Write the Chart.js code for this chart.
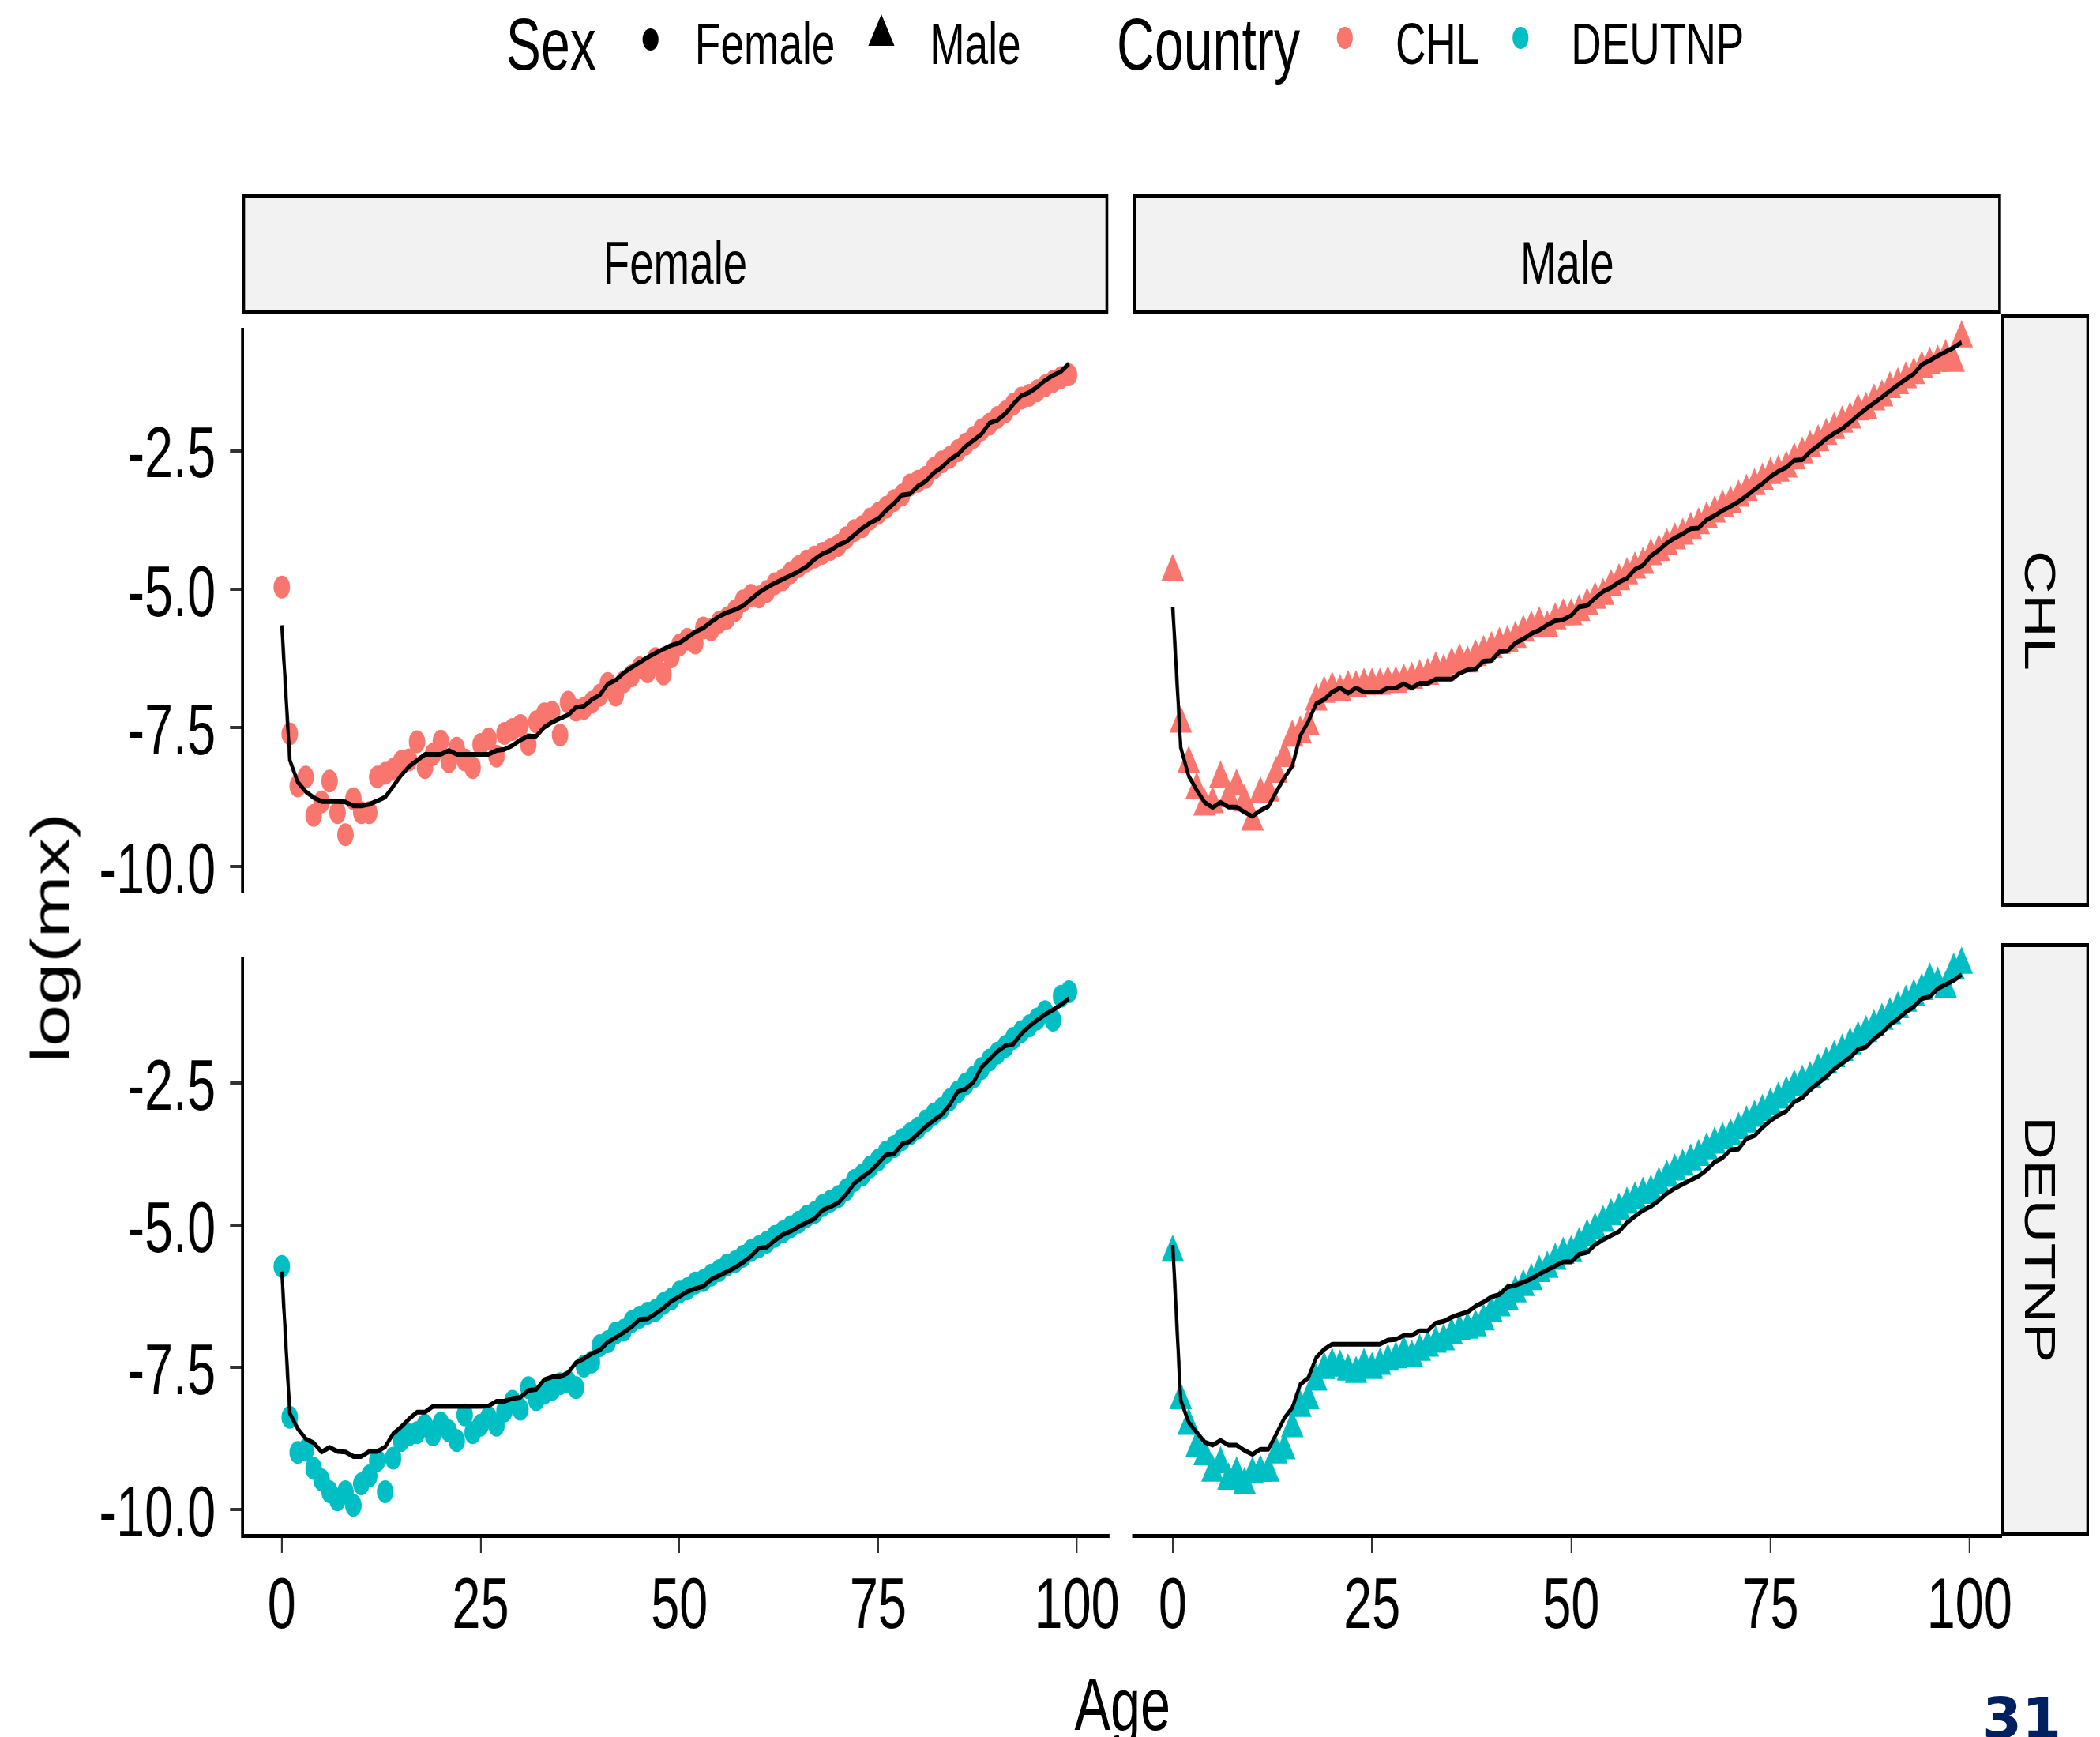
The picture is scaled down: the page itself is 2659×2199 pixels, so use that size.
<!DOCTYPE html>
<html><head><meta charset="utf-8">
<script src="https://cdn.jsdelivr.net/npm/chart.js@4.4.1/dist/chart.umd.min.js"></script>
<style>
html,body{margin:0;padding:0;background:#fff;width:2659px;height:2199px;overflow:hidden;position:relative;}
#wrap{position:absolute;left:0;top:0;width:3693px;height:2199px;transform:scaleX(0.72);transform-origin:0 0;font-family:"Liberation Sans",Arial,sans-serif;color:#000;}
.panel{position:absolute;}
.strip{position:absolute;background:#F2F2F2;border:5px solid #000;box-sizing:border-box;display:flex;align-items:center;justify-content:center;font-size:76px;line-height:1;white-space:nowrap;}
.stripY{writing-mode:vertical-rl;}
.txt{position:absolute;white-space:nowrap;line-height:1;}
.key{position:absolute;}
#pagenum{position:absolute;left:2510px;top:2139px;font-family:"DejaVu Sans",sans-serif;font-weight:bold;font-size:72px;line-height:1;color:#002060;}
</style>
</head>
<body>
<div id="wrap">
  <div class="panel" id="pTL" style="left:0px;top:338px;width:2069px;height:870px;"><canvas id="cTL"></canvas></div>
  <div class="panel" id="pTR" style="left:1933px;top:338px;width:1706px;height:870px;"><canvas id="cTR"></canvas></div>
  <div class="panel" id="pBL" style="left:0px;top:1134px;width:2069px;height:1010px;"><canvas id="cBL"></canvas></div>
  <div class="panel" id="pBR" style="left:1933px;top:1134px;width:1706px;height:1010px;"><canvas id="cBR"></canvas></div>

  <div class="strip" id="sF" style="left:426px;top:246px;width:1523px;height:152px;padding-top:22px;"></div>
  <div class="strip" id="sM" style="left:1993px;top:246px;width:1526px;height:152px;padding-top:22px;"></div>
  <div class="strip stripY" id="sC" style="left:3519px;top:398px;width:155px;height:750px;padding-right:20px;"></div>
  <div class="strip stripY" id="sD" style="left:3519px;top:1194px;width:155px;height:750px;padding-right:20px;"></div>

  <div class="txt" id="legSex" style="left:890px;top:10px;font-size:92px;">Sex</div>
  <div class="key" style="left:1130px;top:36px;width:28px;height:28px;border-radius:50%;background:#000;"></div>
  <div class="txt" id="legF" style="left:1222px;top:19px;font-size:74px;"></div>
  <div class="key" style="left:1527px;top:18px;width:0;height:0;border-left:23px solid transparent;border-right:23px solid transparent;border-bottom:40px solid #000;"></div>
  <div class="txt" id="legM" style="left:1635px;top:19px;font-size:74px;"></div>
  <div class="txt" id="legCountry" style="left:1964px;top:10px;font-size:92px;">Country</div>
  <div class="key" id="kC" style="left:2351px;top:34px;width:28px;height:28px;border-radius:50%;"></div>
  <div class="txt" id="legC" style="left:2454px;top:19px;font-size:74px;"></div>
  <div class="key" id="kD" style="left:2660px;top:34px;width:28px;height:28px;border-radius:50%;"></div>
  <div class="txt" id="legD" style="left:2763px;top:19px;font-size:74px;"></div>

  <div class="txt" style="left:1674px;top:2110px;width:600px;text-align:center;font-size:95px;">Age</div>
  <div class="txt" style="left:-211px;top:1140px;width:600px;height:95px;text-align:center;font-size:95px;transform:rotate(-90deg);transform-origin:50% 50%;">log(mx)</div>
</div>
<div id="pagenum">31</div>

<script>
// ---------- data ----------
const ages = [0,1,2,3,4,5,6,7,8,9,10,11,12,13,14,15,16,17,18,19,20,21,22,23,24,25,26,27,28,29,30,31,32,33,34,35,36,37,38,39,40,41,42,43,44,45,46,47,48,49,50,51,52,53,54,55,56,57,58,59,60,61,62,63,64,65,66,67,68,69,70,71,72,73,74,75,76,77,78,79,80,81,82,83,84,85,86,87,88,89,90,91,92,93,94,95,96,97,98,99];
const sexes = ['Female', 'Male'];
const countries = ['CHL', 'DEUTNP'];
const countryColors = ['#F8766D', '#00BFC4'];
const xTicks = [0, 25, 50, 75, 100];
const yTicks = [-10, -7.5, -5, -2.5];
const xRange = [-4.95, 103.95];
const yRange = [-10.46, -0.31];

const chlFemaleObs = [
-4.96,-7.61,-8.55,-8.39,-9.08,-8.84,-8.46,-9.03,-9.43,-8.78,
-9.03,-9.03,-8.39,-8.32,-8.25,-8.11,-8.08,-7.75,-8.22,-7.98,
-7.74,-8.11,-7.87,-8.08,-8.22,-7.80,-7.70,-8.01,-7.60,-7.53,
-7.46,-7.80,-7.39,-7.25,-7.22,-7.63,-7.04,-7.18,-7.15,-7.04,
-6.91,-6.70,-6.91,-6.67,-6.56,-6.42,-6.49,-6.25,-6.53,-6.22,
-6.01,-5.90,-5.97,-5.70,-5.73,-5.59,-5.52,-5.39,-5.21,-5.11,
-5.14,-5.04,-4.90,-4.83,-4.70,-4.59,-4.49,-4.42,-4.35,-4.28,
-4.21,-4.07,-3.94,-3.87,-3.73,-3.63,-3.52,-3.40,-3.30,-3.12,
-3.05,-2.98,-2.82,-2.70,-2.62,-2.50,-2.38,-2.26,-2.12,-2.02,
-1.90,-1.80,-1.66,-1.55,-1.50,-1.42,-1.33,-1.25,-1.18,-1.13];
const chlFemaleFit = [
-5.65,-8.08,-8.48,-8.65,-8.76,-8.83,-8.83,-8.83,-8.84,-8.91,
-8.91,-8.88,-8.82,-8.75,-8.56,-8.36,-8.20,-8.09,-7.98,-7.98,
-7.98,-7.91,-7.98,-7.98,-7.98,-7.98,-7.98,-7.91,-7.89,-7.82,
-7.72,-7.65,-7.65,-7.49,-7.40,-7.33,-7.27,-7.13,-7.11,-6.99,
-6.91,-6.71,-6.64,-6.51,-6.41,-6.32,-6.23,-6.15,-6.08,-6.01,
-5.97,-5.87,-5.77,-5.70,-5.59,-5.49,-5.42,-5.37,-5.30,-5.18,
-5.06,-4.97,-4.89,-4.82,-4.75,-4.68,-4.59,-4.46,-4.36,-4.30,
-4.20,-4.14,-4.02,-3.90,-3.80,-3.73,-3.58,-3.45,-3.30,-3.28,
-3.14,-3.05,-2.90,-2.80,-2.66,-2.57,-2.42,-2.31,-2.20,-2.00,
-1.95,-1.83,-1.66,-1.51,-1.45,-1.35,-1.23,-1.14,-1.07,-0.93];
const chlMaleObs = [
-4.72,-7.32,-8.01,-8.46,-8.74,-8.70,-8.26,-8.60,-8.40,-8.67,
-9.00,-8.53,-8.50,-8.18,-7.91,-7.56,-7.49,-7.36,-6.94,-6.81,
-6.74,-6.78,-6.71,-6.71,-6.67,-6.67,-6.67,-6.64,-6.64,-6.60,
-6.57,-6.53,-6.50,-6.39,-6.43,-6.32,-6.25,-6.29,-6.18,-6.11,
-6.04,-5.97,-5.94,-5.87,-5.76,-5.69,-5.62,-5.69,-5.55,-5.48,
-5.48,-5.41,-5.30,-5.20,-5.13,-4.98,-4.88,-4.78,-4.68,-4.60,
-4.45,-4.38,-4.28,-4.18,-4.10,-4.00,-3.92,-3.82,-3.72,-3.62,
-3.55,-3.45,-3.35,-3.25,-3.16,-3.06,-3.02,-2.95,-2.81,-2.71,
-2.60,-2.50,-2.39,-2.29,-2.18,-2.11,-1.97,-1.94,-1.80,-1.73,
-1.59,-1.52,-1.42,-1.35,-1.24,-1.17,-1.14,-1.04,-1.14,-0.72];
const chlMaleFit = [
-5.32,-7.73,-8.22,-8.46,-8.67,-8.76,-8.67,-8.75,-8.75,-8.84,
-8.91,-8.81,-8.74,-8.49,-8.25,-8.05,-7.53,-7.29,-6.98,-6.91,
-6.78,-6.71,-6.80,-6.71,-6.78,-6.78,-6.78,-6.71,-6.71,-6.64,
-6.71,-6.63,-6.63,-6.56,-6.56,-6.56,-6.46,-6.40,-6.39,-6.25,
-6.24,-6.09,-6.08,-5.94,-5.87,-5.78,-5.72,-5.63,-5.56,-5.54,
-5.47,-5.32,-5.30,-5.17,-5.06,-4.99,-4.90,-4.83,-4.68,-4.61,
-4.45,-4.35,-4.23,-4.14,-4.07,-3.98,-3.97,-3.83,-3.76,-3.67,
-3.60,-3.52,-3.42,-3.31,-3.21,-3.09,-3.00,-2.93,-2.81,-2.80,
-2.66,-2.56,-2.44,-2.35,-2.27,-2.16,-2.04,-1.93,-1.83,-1.73,
-1.62,-1.52,-1.42,-1.33,-1.17,-1.10,-1.02,-0.95,-0.88,-0.79];
const deuFemaleObs = [
-5.73,-8.38,-9.00,-8.96,-9.28,-9.48,-9.69,-9.83,-9.69,-9.93,
-9.55,-9.41,-9.14,-9.69,-9.10,-8.79,-8.69,-8.65,-8.52,-8.69,
-8.48,-8.62,-8.79,-8.34,-8.65,-8.52,-8.38,-8.52,-8.27,-8.10,
-8.24,-7.86,-8.07,-7.96,-7.89,-7.79,-7.76,-7.86,-7.48,-7.41,
-7.12,-7.05,-6.90,-6.85,-6.70,-6.62,-6.55,-6.50,-6.38,-6.30,
-6.18,-6.12,-6.02,-5.98,-5.88,-5.80,-5.70,-5.65,-5.55,-5.45,
-5.38,-5.30,-5.20,-5.12,-5.03,-4.95,-4.85,-4.78,-4.66,-4.58,
-4.50,-4.38,-4.22,-4.12,-3.98,-3.86,-3.72,-3.62,-3.50,-3.40,
-3.30,-3.17,-3.05,-2.95,-2.80,-2.66,-2.52,-2.40,-2.25,-2.10,
-1.98,-1.86,-1.72,-1.60,-1.50,-1.38,-1.25,-1.40,-0.98,-0.90];
const deuFemaleFit = [
-5.82,-8.31,-8.58,-8.76,-8.83,-8.99,-8.91,-8.98,-8.99,-9.07,
-9.07,-8.98,-8.98,-8.90,-8.67,-8.55,-8.41,-8.29,-8.29,-8.19,
-8.19,-8.19,-8.19,-8.19,-8.19,-8.19,-8.18,-8.10,-8.10,-8.05,
-8.03,-7.91,-7.89,-7.72,-7.67,-7.67,-7.60,-7.42,-7.35,-7.26,
-7.20,-7.06,-6.98,-6.89,-6.79,-6.66,-6.65,-6.56,-6.46,-6.34,
-6.26,-6.17,-6.12,-6.08,-5.96,-5.89,-5.82,-5.75,-5.66,-5.55,
-5.41,-5.39,-5.27,-5.17,-5.11,-5.03,-4.96,-4.89,-4.74,-4.68,
-4.61,-4.46,-4.27,-4.16,-4.06,-3.92,-3.77,-3.75,-3.58,-3.53,
-3.40,-3.27,-3.16,-3.06,-2.89,-2.66,-2.61,-2.49,-2.23,-2.09,
-1.95,-1.85,-1.82,-1.64,-1.51,-1.40,-1.30,-1.22,-1.13,-1.02];
const deuMaleObs = [
-5.61,-8.14,-8.58,-8.96,-9.10,-9.38,-9.24,-9.52,-9.41,-9.59,
-9.41,-9.38,-9.38,-9.07,-9.00,-8.62,-8.27,-8.14,-7.82,-7.62,
-7.55,-7.58,-7.65,-7.69,-7.55,-7.62,-7.55,-7.48,-7.44,-7.34,
-7.41,-7.31,-7.24,-7.17,-7.13,-7.03,-6.96,-6.93,-6.89,-6.79,
-6.65,-6.55,-6.44,-6.31,-6.20,-6.10,-5.96,-5.89,-5.75,-5.65,
-5.62,-5.48,-5.34,-5.23,-5.10,-4.99,-4.89,-4.79,-4.70,-4.62,
-4.58,-4.45,-4.33,-4.22,-4.14,-4.05,-3.97,-3.86,-3.76,-3.68,
-3.62,-3.51,-3.40,-3.30,-3.20,-3.09,-2.99,-2.89,-2.78,-2.70,
-2.64,-2.50,-2.39,-2.28,-2.17,-2.06,-1.95,-1.85,-1.75,-1.64,
-1.54,-1.44,-1.33,-1.23,-1.13,-0.95,-1.02,-1.09,-0.78,-0.68];
const deuMaleFit = [
-5.48,-8.14,-8.52,-8.69,-8.86,-8.91,-8.83,-8.91,-8.91,-9.00,
-9.07,-8.98,-8.98,-8.72,-8.45,-8.27,-7.87,-7.76,-7.41,-7.27,
-7.18,-7.18,-7.18,-7.18,-7.18,-7.18,-7.18,-7.11,-7.10,-7.03,
-7.03,-6.95,-6.95,-6.82,-6.79,-6.72,-6.67,-6.63,-6.53,-6.46,
-6.37,-6.33,-6.20,-6.17,-6.12,-6.06,-5.98,-5.91,-5.84,-5.77,
-5.77,-5.64,-5.61,-5.48,-5.39,-5.32,-5.25,-5.10,-4.99,-4.89,
-4.82,-4.72,-4.60,-4.51,-4.44,-4.37,-4.30,-4.20,-4.06,-3.99,
-3.85,-3.84,-3.66,-3.61,-3.47,-3.35,-3.26,-3.19,-3.03,-2.96,
-2.82,-2.71,-2.60,-2.47,-2.37,-2.27,-2.13,-2.09,-1.95,-1.85,
-1.71,-1.61,-1.49,-1.40,-1.26,-1.23,-1.09,-1.02,-0.95,-0.85];

// ---------- text ----------
document.getElementById('sF').textContent = sexes[0];
document.getElementById('sM').textContent = sexes[1];
document.getElementById('sC').textContent = countries[0];
document.getElementById('sD').textContent = countries[1];
document.getElementById('legF').textContent = sexes[0];
document.getElementById('legM').textContent = sexes[1];
document.getElementById('legC').textContent = countries[0];
document.getElementById('legD').textContent = countries[1];
document.getElementById('kC').style.background = countryColors[0];
document.getElementById('kD').style.background = countryColors[1];

// ---------- charts ----------
const FONT = 'Liberation Sans';
function pts(vals){ return ages.map((a,i)=>({x:a, y:vals[i]})); }

function makePanel(id, obs, fit, color, shape, showY, showX){
  const isMale = shape === 'triangle';
  new Chart(document.getElementById(id), {
    type: 'scatter',
    data: { datasets: [
      { data: pts(fit), showLine: true, borderColor: '#000', borderWidth: 6, pointRadius: 0,
        borderJoinStyle: 'round', tension: 0, order: 0 },
      { data: pts(obs), pointStyle: shape, pointRadius: isMale ? 23 : 14.5,
        pointBackgroundColor: color, pointBorderWidth: 0, borderWidth: 0, showLine: false, order: 1 }
    ]},
    options: {
      responsive: true, maintainAspectRatio: false, animation: false, events: [],
      layout: { padding: { top: 60, bottom: showX ? 0 : 60, left: showY ? 0 : 60, right: 120 } },
      plugins: { legend: { display: false }, tooltip: { enabled: false }, title: { display: false } },
      scales: {
        x: {
          type: 'linear', min: xRange[0], max: xRange[1], display: showX,
          afterBuildTicks: s => { s.ticks = xTicks.map(v => ({ value: v })); },
          afterFit: s => { if (showX) s.height = 200; },
          grid: { display: true, drawOnChartArea: false, drawTicks: true, tickLength: 22, tickWidth: 3, tickColor: '#333333', lineWidth: 3 },
          border: { display: true, color: '#000', width: 5 },
          ticks: { autoSkip: false, maxRotation: 0, minRotation: 0, padding: 16, color: '#000',
                   font: { family: FONT, size: 90 }, callback: v => String(v) }
        },
        y: {
          type: 'linear', min: yRange[0], max: yRange[1], display: showY,
          afterBuildTicks: s => { s.ticks = yTicks.map(v => ({ value: v })); },
          afterFit: s => { if (showY) s.width = 426.4; },
          grid: { display: true, drawOnChartArea: false, drawTicks: true, tickLength: 22, tickWidth: 4, tickColor: '#333333', lineWidth: 4 },
          border: { display: true, color: '#000', width: 5 },
          ticks: { padding: 25, labelOffset: 9, color: '#000', font: { family: FONT, size: 90 },
                   callback: v => Number(v).toFixed(1) }
        }
      }
    }
  });
}

makePanel('cTL', chlFemaleObs, chlFemaleFit, countryColors[0], 'circle', true, false);
makePanel('cTR', chlMaleObs, chlMaleFit, countryColors[0], 'triangle', false, false);
makePanel('cBL', deuFemaleObs, deuFemaleFit, countryColors[1], 'circle', true, true);
makePanel('cBR', deuMaleObs, deuMaleFit, countryColors[1], 'triangle', false, true);
</script>
</body></html>
